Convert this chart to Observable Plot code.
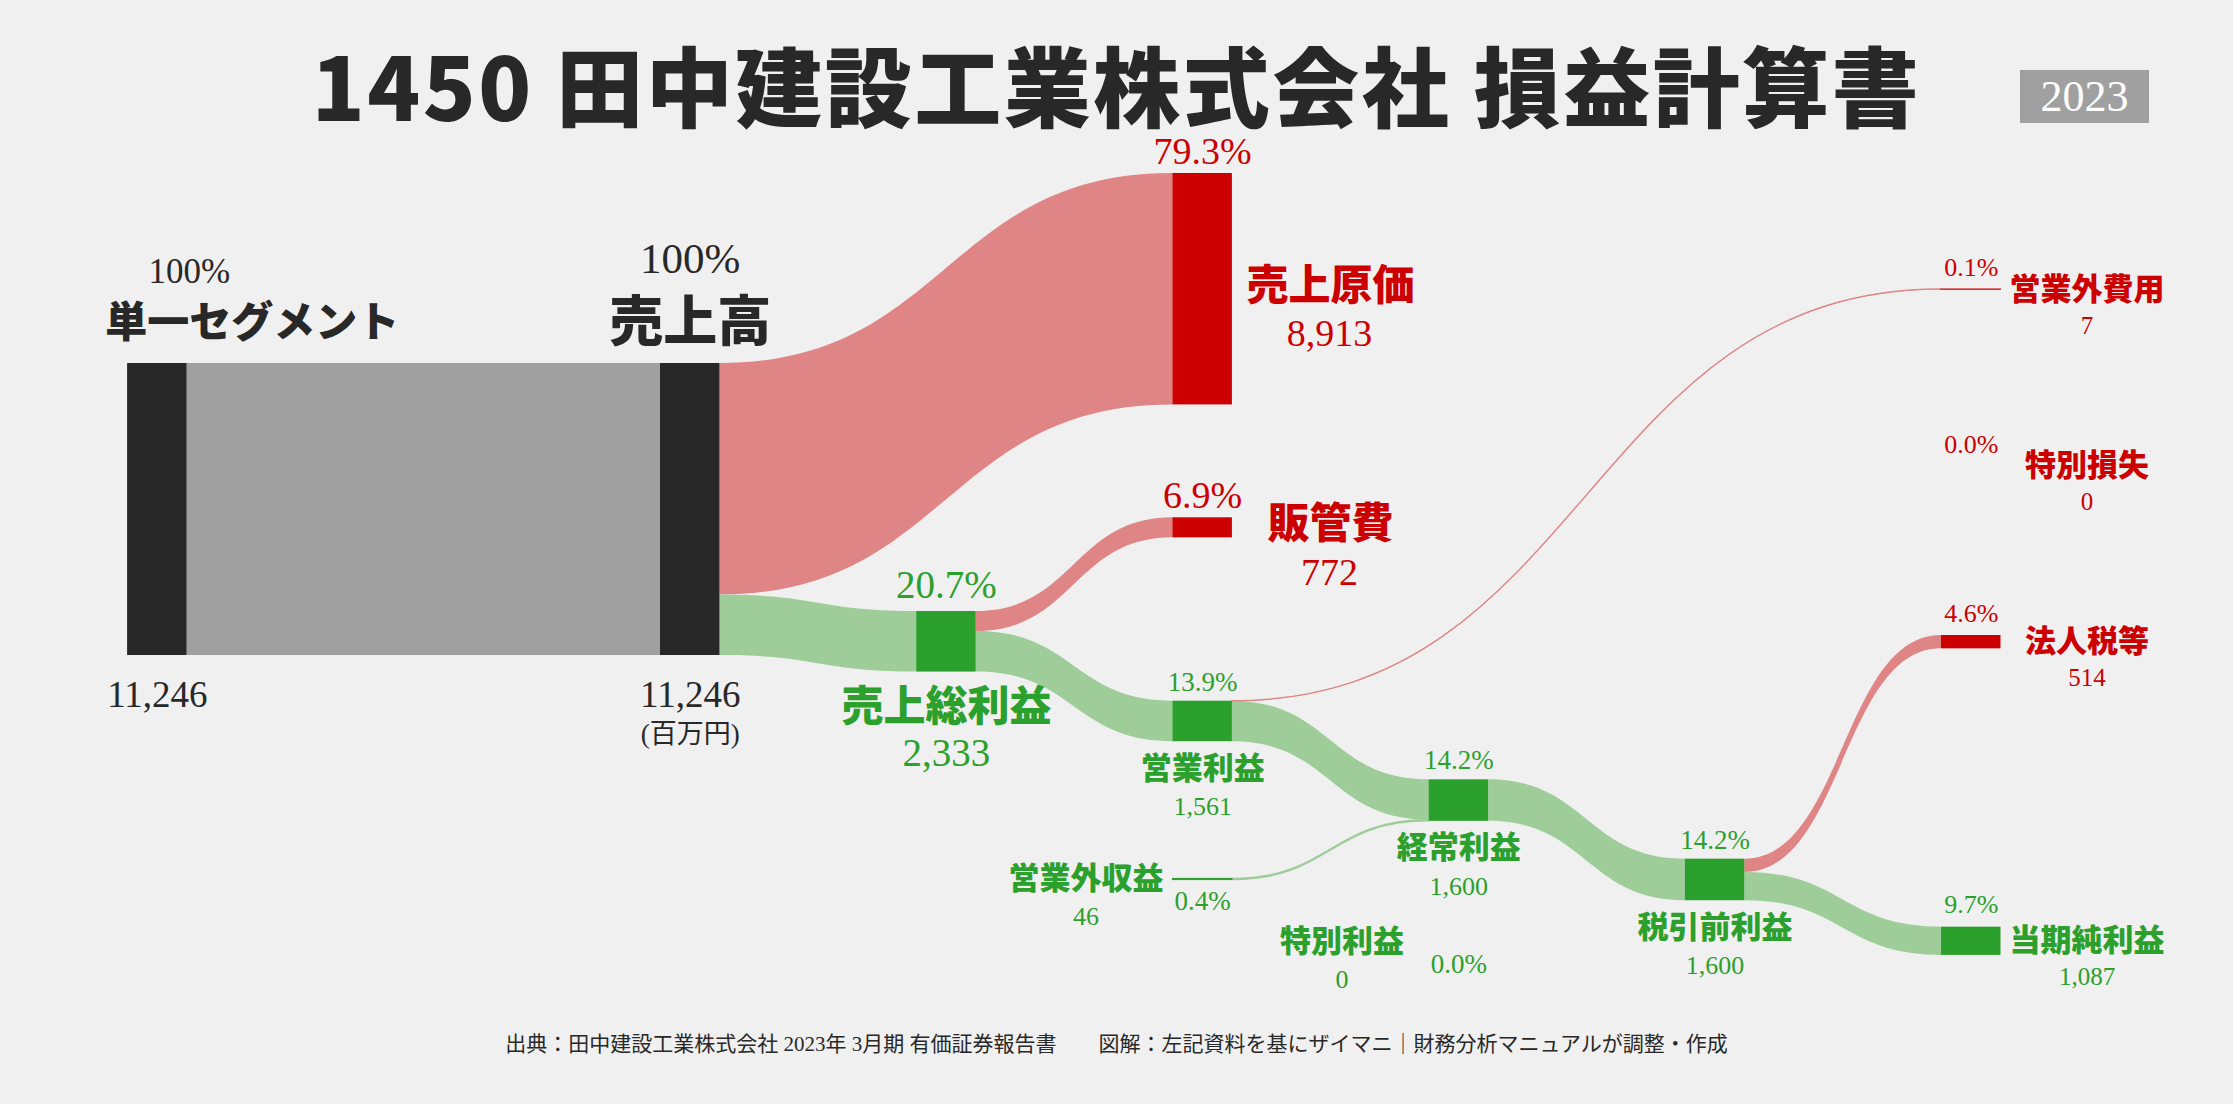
<!DOCTYPE html>
<html>
<head>
<meta charset="utf-8">
<script src="https://cdn.jsdelivr.net/npm/d3@7"></script>
<script src="https://cdn.jsdelivr.net/npm/@observablehq/plot@0.6"></script>
<style>
html, body { margin: 0; padding: 0; background: #f0f0f0; }
body { width: 2233px; height: 1104px; position: relative; overflow: hidden; }
#title { position: absolute; left: 0; top: 43px; width: 2233px; height: 80px; line-height: 80px; text-align: center;
  font-family: "Noto Sans CJK JP", sans-serif; font-weight: 900; font-size: 87px; letter-spacing: 2.5px; color: #282828; white-space: nowrap; }
#badge { position: absolute; left: 2020px; top: 70px; width: 129px; height: 53px; line-height: 53px; background: #a0a0a0;
  color: #fff; text-align: center; font-family: "Liberation Serif", serif; font-size: 44px; }
#chart { position: absolute; left: 0; top: 135px; }
#footer { position: absolute; left: 0; top: 1028px; width: 2233px; height: 32px; line-height: 32px; text-align: center;
  font-family: "Liberation Serif", "Noto Sans CJK JP", serif; font-size: 21px; color: #282828; white-space: pre; }
</style>
</head>
<body>
<div id="title"></div>
<div id="badge"></div>
<div id="chart"></div>
<div id="footer"></div>
<script>
// ---------- text ----------
const titleText = "1450 田中建設工業株式会社 損益計算書";
const yearText = "2023";
const unitText = "(百万円)";
const sourceText = "出典：田中建設工業株式会社 2023年 3月期 有価証券報告書　　図解：左記資料を基にザイマニ｜財務分析マニュアルが調整・作成";

// ---------- data ----------
const nodeNames  = ["単一セグメント", "売上高", "売上原価", "売上総利益", "販管費", "営業利益", "営業外収益",
                    "経常利益", "特別利益", "営業外費用", "税引前利益", "特別損失", "法人税等", "当期純利益"];
const nodeValues = [11246, 11246, 8913, 2333, 772, 1561, 46, 1600, 0, 7, 1600, 0, 514, 1087];
const nodeKinds  = ["base", "base", "cost", "profit", "cost", "profit", "profit",
                    "profit", "profit", "cost", "profit", "cost", "cost", "profit"];

const linkSources = [0, 1, 1, 3, 3, 5, 5, 6, 7, 8, 10, 10, 10];
const linkTargets = [1, 2, 3, 4, 5, 9, 7, 7, 10, 10, 12, 11, 13];
const linkValues  = [11246, 8913, 2333, 772, 1561, 7, 1554, 46, 1600, 0, 514, 0, 1087];

const totalSales = 11246;

// ---------- layout (positions, sizes, styles) ----------
const pxPerUnit = 292 / totalSales;     // vertical scale: px per million yen
const colPx = 256.2;                    // px between columns
const svgW = 2233, svgH = 875;
const nodeW = 59.5 / colPx;             // node width in column units
const nodeColumn = [-1.08, 1, 3, 2, 3, 3, 3, 4, 4, 6, 5, 6, 6, 6];
const nodeTop    = [8781, 8781, 1463, 18332, 14724, 21787, 28631, 24814, 31080, 5931, 27872, 12748, 19257, 30490];
const nodeRole   = ["seg", "sales", "cost", "gross", "cost", "mid", "in", "mid", "in", "out", "mid", "out", "out", "out"];

const nodeColor = {base: "#282828", cost: "#cc0000", profit: "#2ca02c"};
const linkColor = {base: "#a0a0a0", cost: "#e08585", profit: "#9ecd9a"};
const textColor = {base: "#282828", cost: "#cc0000", profit: "#2ca02c"};

// label offsets in px: ax = c (node centre) | l (left edge) | r (right edge); ay = top | mid | bottom
const roleStyle = {
  seg:   {pct: ["c", 32, "top", -92, 35],  name: ["c", 95, "top", -40, 42],  val: ["c", 0, "bottom", 40, 37]},
  sales: {pct: ["c", 0, "top", -104, 43],  name: ["c", 0, "top", -40, 54],   val: ["c", 0, "bottom", 40, 37], unit: ["c", 0, "bottom", 79, 27]},
  cost:  {pct: ["c", 0, "top", -22, 38],   name: ["r", 98, "mid", -3, 42],   val: ["r", 97, "mid", 45, 38]},
  gross: {pct: ["c", 0, "top", -26, 39],   name: ["c", 0, "bottom", 35, 42], val: ["c", 0, "bottom", 81, 39]},
  mid:   {pct: ["c", 0, "top", -19, 27],   name: ["c", 0, "bottom", 27, 31], val: ["c", 0, "bottom", 65, 26]},
  in:    {pct: ["c", 0, "mid", 22, 27],    name: ["l", -87, "mid", 0, 31],   val: ["l", -87, "mid", 37, 26]},
  out:   {pct: ["c", 0, "top", -22, 26],   name: ["r", 86, "mid", 0, 31],    val: ["r", 86, "mid", 36, 25]}
};

// ---------- build ----------
document.getElementById("title").textContent = titleText;
document.getElementById("badge").textContent = yearText;
document.getElementById("footer").textContent = sourceText;

const nodes = nodeNames.map((name, i) => ({
  i, name, value: nodeValues[i], kind: nodeKinds[i], role: nodeRole[i],
  col: nodeColumn[i], top: nodeTop[i], bottom: nodeTop[i] + nodeValues[i],
  color: nodeColor[nodeKinds[i]]
}));

const outOff = nodes.map(() => 0), inOff = nodes.map(() => 0);
const links = linkSources.map((s, j) => {
  const t = linkTargets[j], v = linkValues[j];
  const sy = nodes[s].top + outOff[s]; outOff[s] += v;
  const ty = nodes[t].top + inOff[t]; inOff[t] += v;
  return {id: j, s, t, v, sy, ty, color: linkColor[nodes[t].kind]};
});
const linkPts = links.filter(l => l.v > 0).flatMap(l => [
  {id: l.id, v: l.v, x: nodes[l.s].col + nodeW, y0: l.sy, y1: l.sy + l.v, color: l.color},
  {id: l.id, v: l.v, x: nodes[l.t].col,          y0: l.ty, y1: l.ty + l.v, color: l.color}
]);

const fmt = d3.format(",");
const pctText = v => (v / totalSales * 100).toFixed(1) + "%";

const nameLabels = [], numLabels = [];
function place(n, spec) {
  const [ax, dx, ay, dy, size] = spec;
  const x = (ax === "c" ? n.col + nodeW / 2 : ax === "l" ? n.col : n.col + nodeW) + dx / colPx;
  const y = (ay === "top" ? n.top : ay === "bottom" ? n.bottom : (n.top + n.bottom) / 2) + dy / pxPerUnit;
  return {x, y, size, fill: textColor[n.kind]};
}
for (const n of nodes) {
  const st = roleStyle[n.role];
  const isBase = n.kind === "base";
  numLabels.push({...place(n, st.pct), text: isBase ? "100%" : pctText(n.value)});
  nameLabels.push({...place(n, st.name), text: n.name});
  numLabels.push({...place(n, st.val), text: fmt(n.value)});
  if (st.unit) numLabels.push({...place(n, st.unit), text: unitText});
}

const visibleNodes = nodes.filter(n => n.value > 0);

const chart = Plot.plot({
  width: svgW, height: svgH, margin: 0,
  style: {background: "transparent", overflow: "visible"},
  x: {domain: [1, 6], range: [660, 660 + 5 * colPx], axis: null},
  y: {domain: [0, svgH / pxPerUnit], range: [0, svgH], axis: null},
  color: {type: "identity"},
  marks: [
    Plot.area(linkPts, {x1: "x", y1: "y0", y2: "y1", z: "id", fill: "color", curve: "bump-x"}),
    Plot.area(linkPts.filter(d => d.v < 100), {x1: "x", y1: "y0", y2: "y1", z: "id", fill: "color", stroke: "color", strokeWidth: 1.3, curve: "bump-x"}),
    Plot.rect(visibleNodes, {x1: "col", x2: d => d.col + nodeW, y1: "top", y2: "bottom", fill: "color"}),
    Plot.rect(visibleNodes.filter(d => d.value < 100), {x1: "col", x2: d => d.col + nodeW, y1: "top", y2: "bottom", fill: "color", stroke: "color", strokeWidth: 1}),
    Plot.text(nameLabels, {x: "x", y: "y", text: "text", fontSize: "size", fill: "fill",
      fontFamily: "Noto Sans CJK JP", fontWeight: 900, textAnchor: "middle"}),
    Plot.text(numLabels, {x: "x", y: "y", text: "text", fontSize: "size", fill: "fill",
      fontFamily: "Liberation Serif, Noto Sans CJK JP", textAnchor: "middle"})
  ]
});
document.getElementById("chart").appendChild(chart);
</script>
</body>
</html>
